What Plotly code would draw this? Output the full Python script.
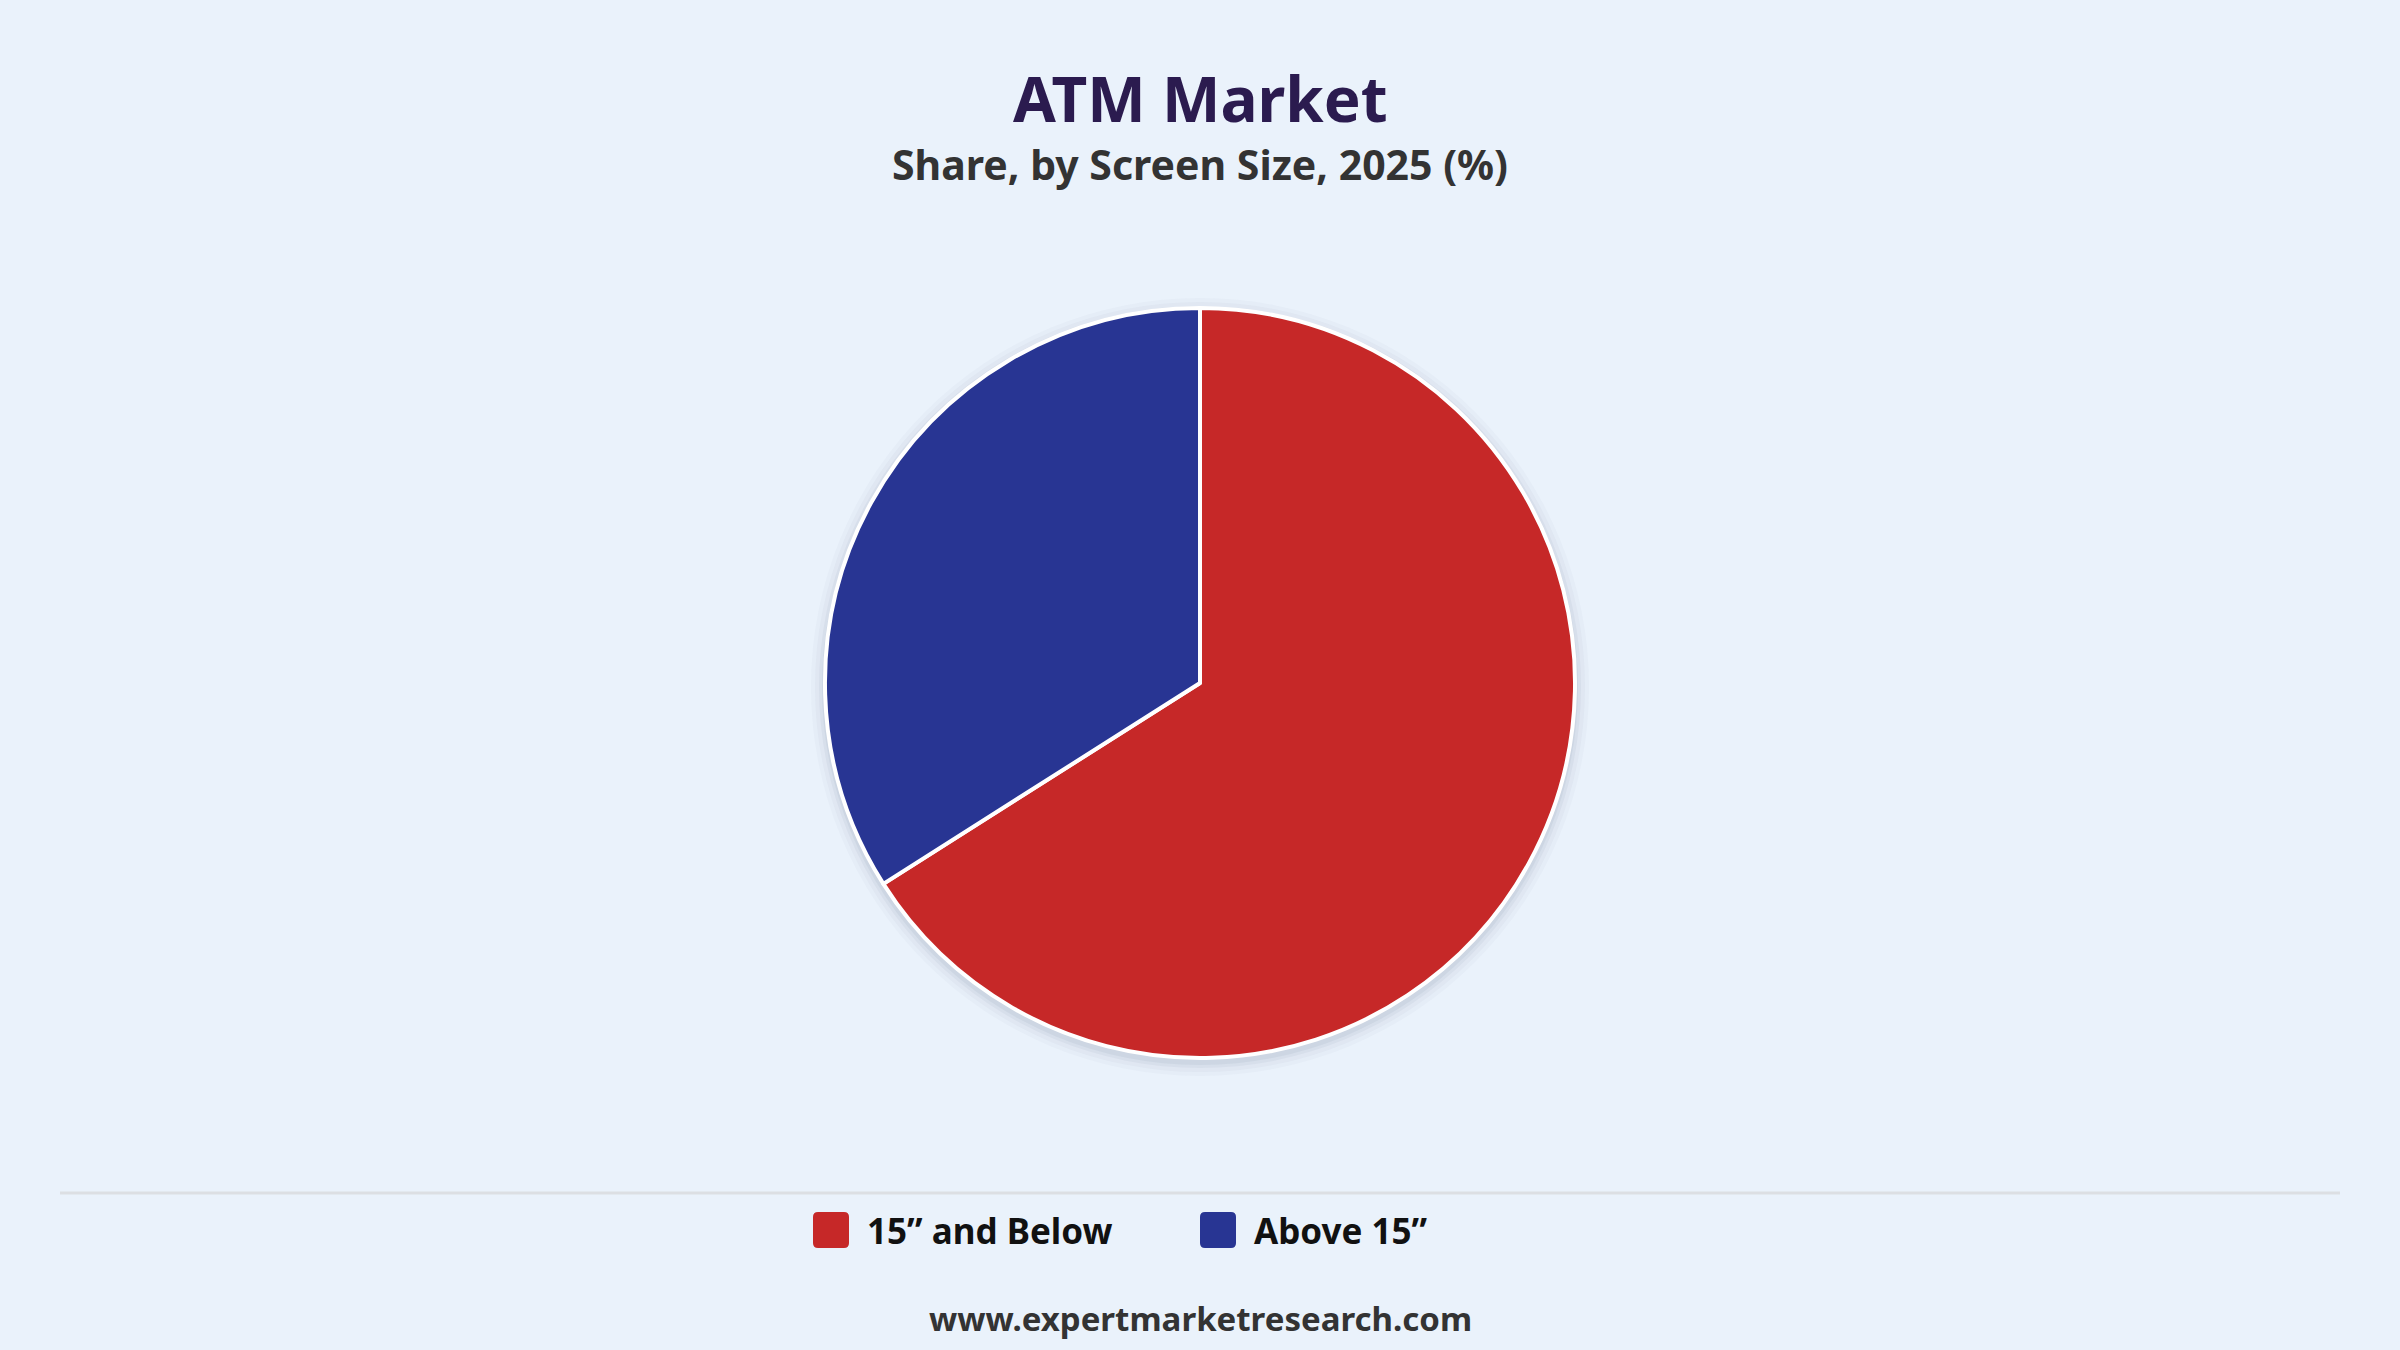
import plotly.graph_objects as go

# chart data
labels = ["15\u201d and Below", "Above 15\u201d"]
shares = [66, 34]
colors = ["#C62828", "#283593"]

title = "ATM Market"
subtitle = "Share, by Screen Size, 2025 (%)"
source = "www.expertmarketresearch.com"

W, H = 2400, 1350
FONT = "Noto Sans"
BG = "#EAF2FB"

# pie placement (paper fractions)
pie_y = [0.2163, 0.7719]
pie_cx, pie_cy = 0.5, sum(pie_y) / 2
pie_r = (pie_y[1] - pie_y[0]) * H / 2

fig = go.Figure()
fig.add_trace(go.Pie(
    labels=labels,
    values=shares,
    marker=dict(colors=colors, line=dict(color="white", width=4)),
    sort=False,
    direction="clockwise",
    rotation=0,
    textinfo="none",
    showlegend=False,
    domain=dict(x=[0, 1], y=pie_y),
))

shapes = []
# soft shadow behind the pie
for grow, alpha in [(14, 0.03), (10, 0.04), (6, 0.06), (3, 0.08)]:
    r = pie_r + grow
    dy = 4
    shapes.append(dict(
        type="circle", xref="paper", yref="paper", layer="below",
        x0=pie_cx - r / W, x1=pie_cx + r / W,
        y0=pie_cy - (r + dy) / H, y1=pie_cy + (r - dy) / H,
        fillcolor=f"rgba(90,110,140,{alpha})", line=dict(width=0),
    ))
# divider line above legend
shapes.append(dict(
    type="line", xref="paper", yref="paper",
    x0=60 / W, x1=1 - 60 / W, y0=1 - 1193 / H, y1=1 - 1193 / H,
    line=dict(color="#DCDFE3", width=3),
))

annotations = [
    dict(text=f"<b>{title}</b>", x=0.5, y=1 - 98 / H, xref="paper", yref="paper",
         showarrow=False, xanchor="center", yanchor="middle",
         font=dict(family=FONT, size=62, color="#2B1B4F", weight=800)),
    dict(text=f"<b>{subtitle}</b>", x=0.5, y=1 - 164 / H, xref="paper", yref="paper",
         showarrow=False, xanchor="center", yanchor="middle",
         font=dict(family=FONT, size=41, color="#333333")),
    dict(text=f"<b>{source}</b>", x=0.5, y=1 - 1318 / H, xref="paper", yref="paper",
         showarrow=False, xanchor="center", yanchor="middle",
         font=dict(family=FONT, size=33, color="#333333")),
]


def rounded_rect(x0, y0, x1, y1, rx, ry):
    return (f"M{x0 + rx},{y0} L{x1 - rx},{y0} Q{x1},{y0} {x1},{y0 + ry} "
            f"L{x1},{y1 - ry} Q{x1},{y1} {x1 - rx},{y1} L{x0 + rx},{y1} "
            f"Q{x0},{y1} {x0},{y1 - ry} L{x0},{y0 + ry} Q{x0},{y0} {x0 + rx},{y0} Z")


# legend drawn as swatches + labels
leg_y = 1 - 1230 / H
swatch_x = [813, 1200]
sw = 36
for lab, col, sx in zip(labels, colors, swatch_x):
    x0, x1 = sx / W, (sx + sw) / W
    y0, y1 = leg_y - sw / 2 / H, leg_y + sw / 2 / H
    shapes.append(dict(
        type="path", xref="paper", yref="paper",
        path=rounded_rect(x0, y0, x1, y1, 5 / W, 5 / H),
        fillcolor=col, line=dict(width=0),
    ))
    annotations.append(dict(
        text=f"<b>{lab}</b>", x=(sx + sw + 16) / W, y=leg_y, xref="paper", yref="paper",
        showarrow=False, xanchor="left", yanchor="middle",
        font=dict(family=FONT, size=35, color="#111111"),
    ))

fig.update_layout(
    width=W, height=H,
    paper_bgcolor=BG, plot_bgcolor=BG,
    margin=dict(l=0, r=0, t=0, b=0),
    shapes=shapes,
    annotations=annotations,
    font=dict(family=FONT),
)

fig.write_html(
    "out.html",
    config=dict(displayModeBar=False),
    post_script=f"document.body.style.margin='0';document.body.style.background='{BG}';",
)
